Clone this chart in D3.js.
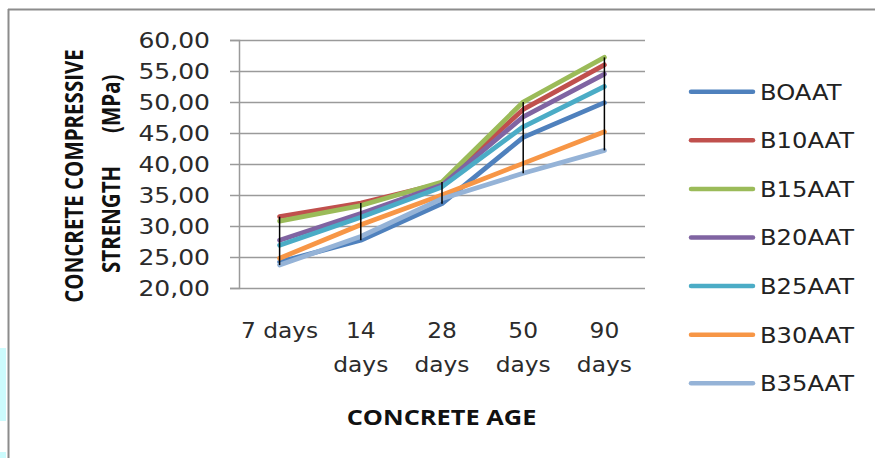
<!DOCTYPE html>
<html><head><meta charset="utf-8">
<script src="https://cdn.jsdelivr.net/npm/d3@7"></script>
<style>html,body{margin:0;padding:0;background:#fff;}svg{display:block;}</style>
</head><body>
<svg id="chart" width="875" height="458"></svg>
<script>
const categories = ["7 days", "14 days", "28 days", "50 days", "90 days"];
const categoryLines = [["7 days"], ["14", "days"], ["28", "days"], ["50", "days"], ["90", "days"]];
const seriesNames = ["BOAAT", "B10AAT", "B15AAT", "B20AAT", "B25AAT", "B30AAT", "B35AAT"];
const B0AAT  = [24.2, 27.7, 33.6, 44.3, 49.9];
const B10AAT = [31.5, 33.7, 36.9, 48.8, 56.0];
const B15AAT = [30.8, 33.3, 37.1, 50.0, 57.2];
const B20AAT = [27.7, 32.0, 36.6, 47.6, 54.5];
const B25AAT = [26.9, 31.4, 36.3, 46.0, 52.5];
const B30AAT = [24.8, 30.2, 35.0, 40.1, 45.2];
const B35AAT = [23.7, 28.3, 34.4, 38.5, 42.2];
const seriesColors = ["#4F81BD", "#C0504D", "#9BBB59", "#8064A2", "#4BACC6", "#F79646", "#95B3D7"];
const yTicks = [20, 25, 30, 35, 40, 45, 50, 55, 60];
const yTitleLine1 = "CONCRETE COMPRESSIVE";
const yTitleLine2a = "STRENGTH";
const yTitleLine2b = "(MPa)";
const xTitle = "CONCRETE AGE";

const seriesValues = [B0AAT, B10AAT, B15AAT, B20AAT, B25AAT, B30AAT, B35AAT];
const series = seriesNames.map((n, i) => ({name: n, values: seriesValues[i], color: seriesColors[i]}));

const svg = d3.select("#chart");
const plot = {left: 239, right: 645, top: 40, bottom: 288};

// stretch text horizontally (the reference is slightly widened)
function stretch(sel, k) {
  sel.each(function () {
    const w = this.getComputedTextLength();
    d3.select(this).attr("textLength", w * k).attr("lengthAdjust", "spacingAndGlyphs");
  });
}

// screenshot artifacts / frame
svg.append("rect").attr("x", 0).attr("y", 348).attr("width", 6).attr("height", 73).attr("fill", "#ccfbfd");
svg.append("rect").attr("x", 0).attr("y", 452).attr("width", 6).attr("height", 6).attr("fill", "#ccfbfd");
svg.append("line").attr("x1", 8.5).attr("x2", 8.5).attr("y1", 9).attr("y2", 458).attr("stroke", "#8c8c8c").attr("stroke-width", 2);
svg.append("line").attr("x1", 8).attr("x2", 875).attr("y1", 9.5).attr("y2", 9.5).attr("stroke", "#8c8c8c").attr("stroke-width", 2);

const x = d3.scaleBand().domain(categories).range([plot.left, plot.right]);
const y = d3.scaleLinear().domain([20, 60]).range([plot.bottom, plot.top]);

// gridlines
svg.append("g").selectAll("line").data(yTicks).join("line")
  .attr("x1", plot.left).attr("x2", plot.right)
  .attr("y1", d => Math.round(y(d)) + 0.5).attr("y2", d => Math.round(y(d)) + 0.5)
  .attr("stroke", "#9a9a9a").attr("stroke-width", 1.5);

// y axis
const yAxis = d3.axisLeft(y).tickValues(yTicks).tickSize(9).tickPadding(20)
  .tickFormat(d => d3.format(".2f")(d).replace(".", ","));
const gy = svg.append("g").attr("transform", `translate(${plot.left},0)`).call(yAxis);
gy.select(".domain").attr("stroke", "#9a9a9a").attr("stroke-width", 1.5);
gy.selectAll(".tick line").attr("stroke", "#9a9a9a").attr("stroke-width", 1.5);
gy.selectAll(".tick text").attr("font-family", "DejaVu Sans").attr("font-size", 20.5)
  .attr("fill", "#2b2b2b").attr("dy", "0.36em");
stretch(gy.selectAll(".tick text"), 1.22);

// x axis labels
const gx = svg.append("g");
categories.forEach((c, i) => {
  const t = gx.append("text").attr("text-anchor", "middle")
    .attr("font-family", "DejaVu Sans").attr("font-size", 22).attr("fill", "#2b2b2b");
  categoryLines[i].forEach((ln, j) => {
    t.append("tspan").attr("x", x(c) + x.bandwidth() / 2).attr("y", 338 + j * 34).text(ln);
  });
});
stretch(gx.selectAll("tspan"), 1.06);

// lines
const line = d3.line().x((d, i) => x(categories[i]) + x.bandwidth() / 2).y(d => y(d));
svg.append("g").selectAll("path").data(series).join("path")
  .attr("d", d => line(d.values)).attr("fill", "none")
  .attr("stroke", d => d.color).attr("stroke-width", 4.8)
  .attr("stroke-linejoin", "round").attr("stroke-linecap", "round");

// high-low lines
svg.append("g").selectAll("line").data(categories).join("line")
  .attr("x1", c => x(c) + x.bandwidth() / 2).attr("x2", c => x(c) + x.bandwidth() / 2)
  .attr("y1", (c, i) => y(d3.max(series, s => s.values[i])))
  .attr("y2", (c, i) => y(d3.min(series, s => s.values[i])))
  .attr("stroke", "#000").attr("stroke-width", 1.5);

// legend
const lg = svg.append("g").selectAll("g").data(series).join("g")
  .attr("transform", (d, i) => `translate(0,${91.7 + i * 48.6})`);
lg.append("line").attr("x1", 691).attr("x2", 753).attr("y1", 0).attr("y2", 0)
  .attr("stroke", d => d.color).attr("stroke-width", 4.5).attr("stroke-linecap", "round");
const lt = lg.append("text").attr("x", 760).attr("y", 0).attr("dy", "0.36em")
  .attr("font-family", "DejaVu Sans").attr("font-size", 22)
  .attr("fill", "#222").text(d => d.name);
stretch(lt, 1.1);

// x title
const xt = svg.append("text").attr("x", 441.5).attr("y", 425).attr("text-anchor", "middle")
  .attr("font-family", "Open Sans").attr("font-weight", 700).attr("font-size", 21.5)
  .attr("fill", "#111").text(xTitle);
stretch(xt, 1.18);

// y title (two lines, rotated)
const f = 20.5, sx = 1.22;
svg.append("text").attr("transform", `translate(74,0) scale(${sx},1) rotate(-90)`)
  .attr("x", -176).attr("y", 0.357 * f).attr("text-anchor", "middle")
  .attr("font-family", "Open Sans").attr("font-weight", 700).attr("font-size", f)
  .attr("fill", "#111").text(yTitleLine1);
const t2 = svg.append("text").attr("transform", `translate(111,0) scale(${sx},1) rotate(-90)`)
  .attr("y", 0.357 * f).attr("font-family", "Open Sans").attr("font-weight", 700).attr("font-size", f)
  .attr("fill", "#111");
t2.append("tspan").attr("x", -273).text(yTitleLine2a);
t2.append("tspan").attr("x", -133).text(yTitleLine2b);
</script>
</body></html>
